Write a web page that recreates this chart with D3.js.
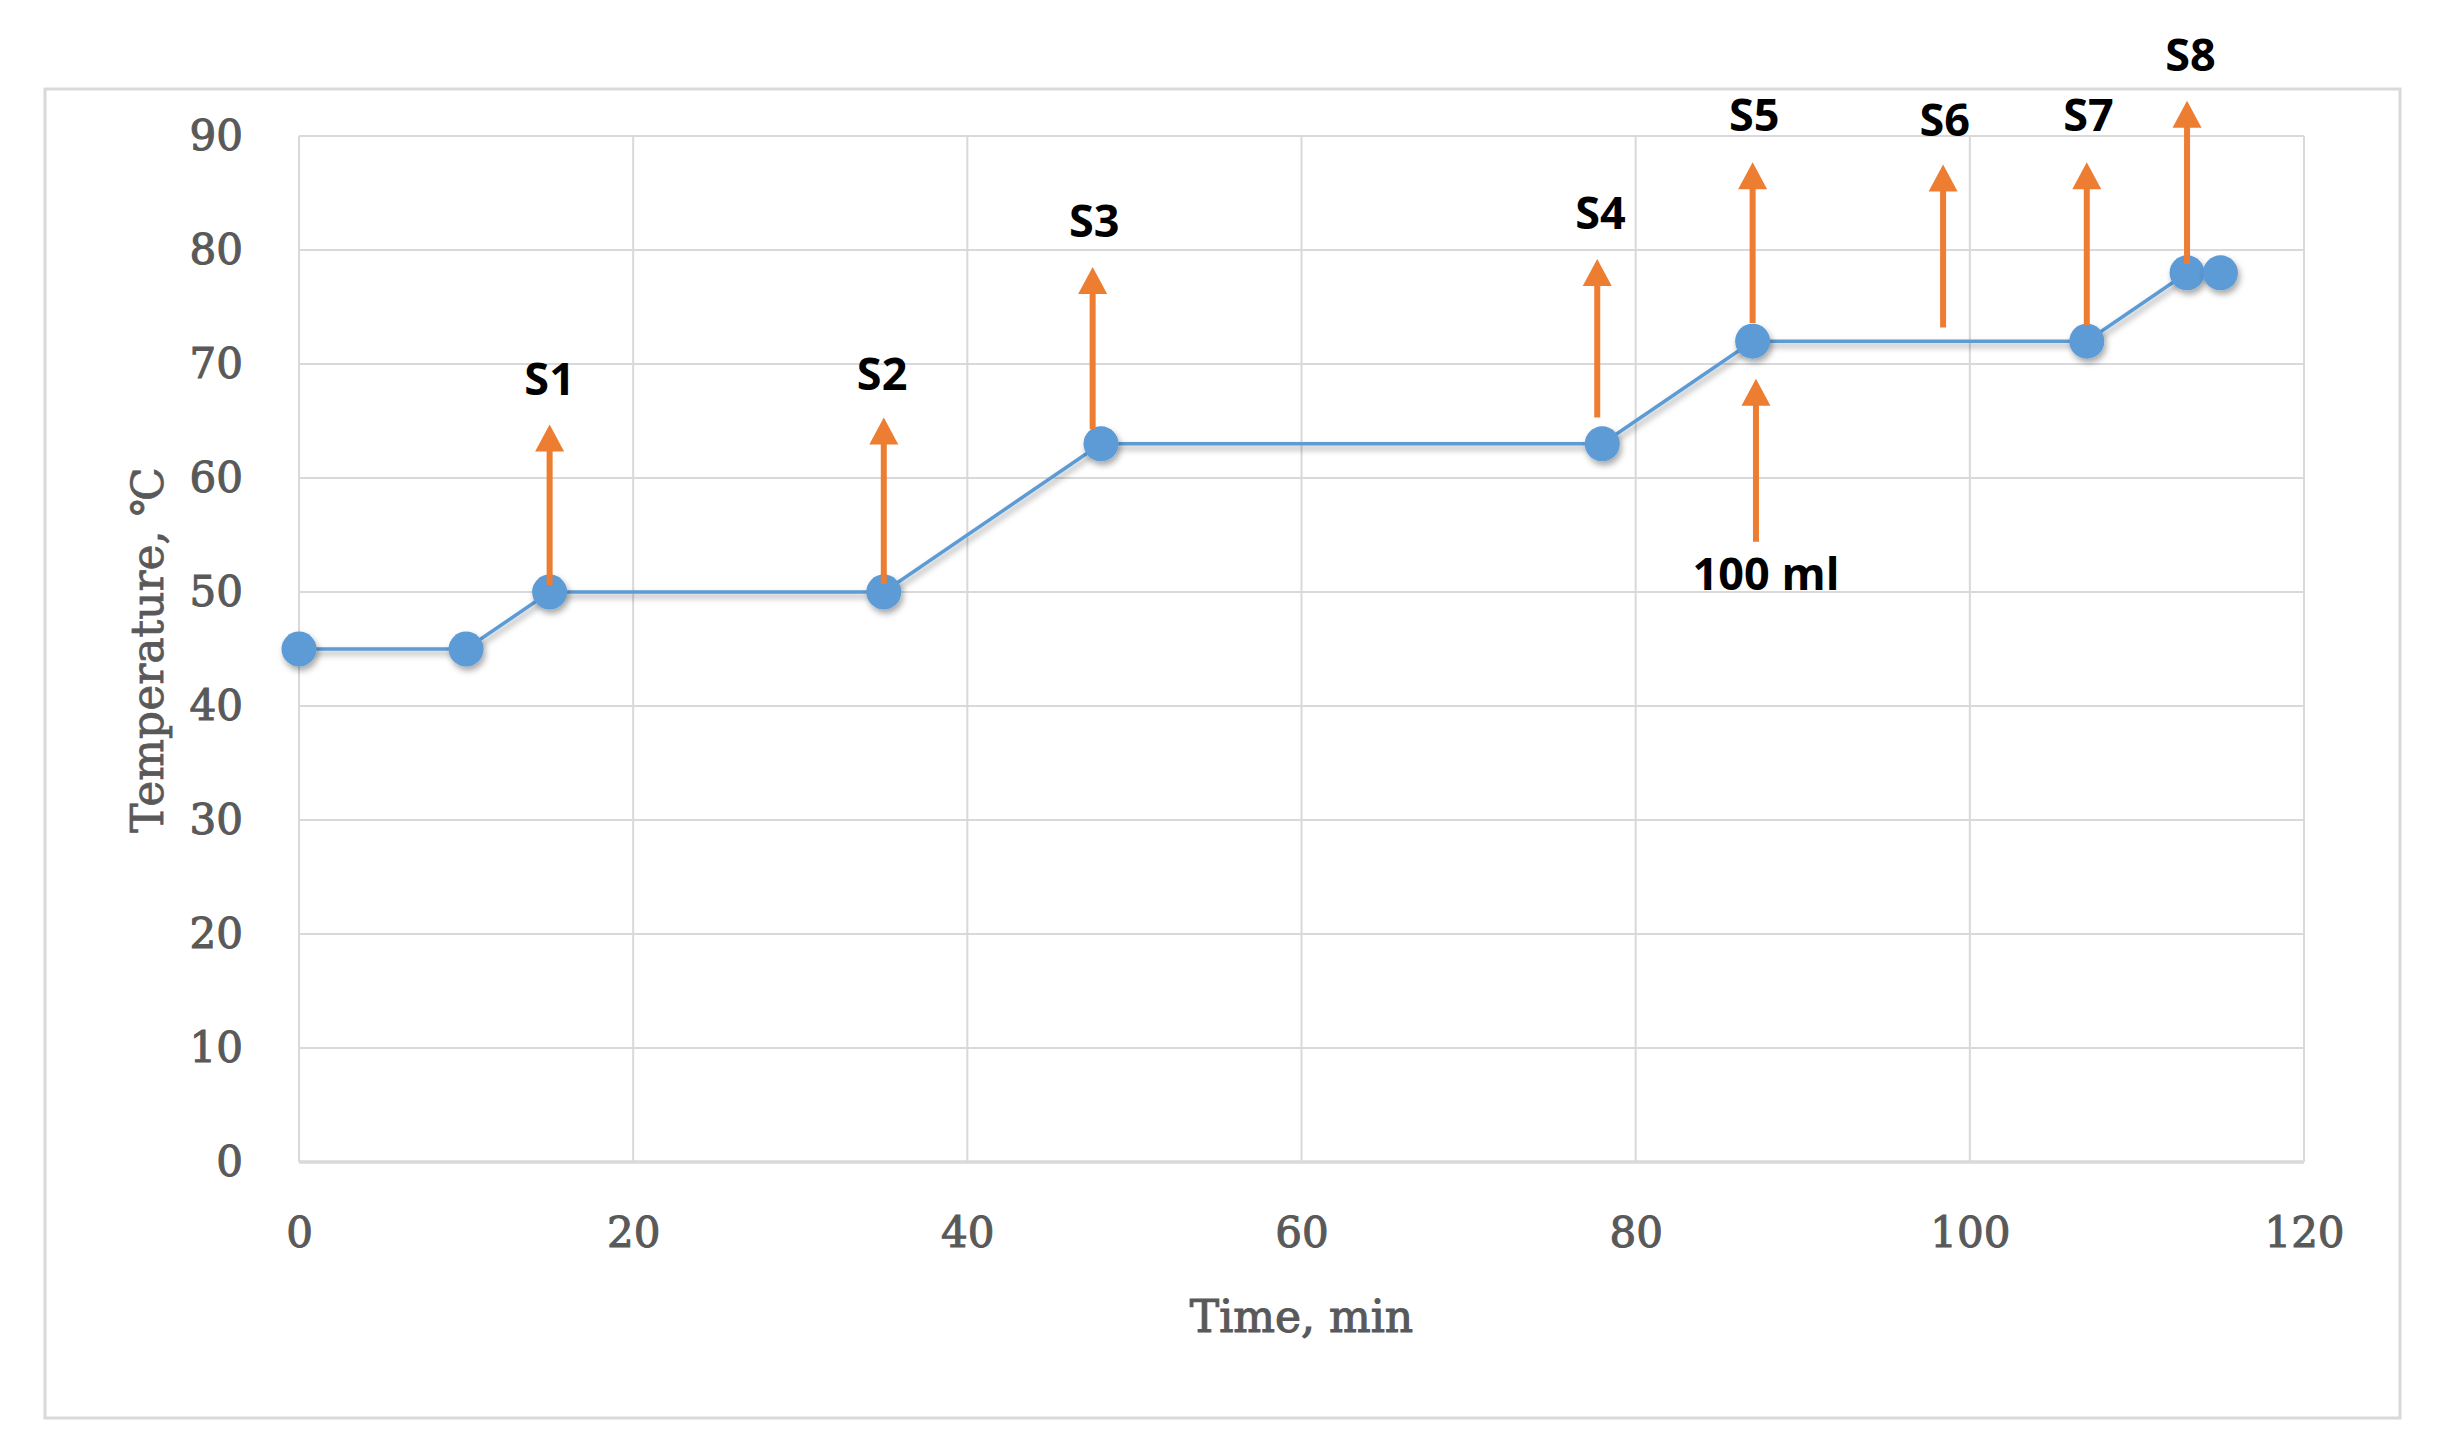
<!DOCTYPE html>
<html><head><meta charset="utf-8">
<script src="https://cdn.jsdelivr.net/npm/d3@7"></script>
<style>body{margin:0;background:#fff}svg{display:block}</style>
</head><body>
<svg id="c" width="2438" height="1452"></svg>
<script>
// Data
const times = [0, 10, 15, 35, 48, 78, 87, 107, 113, 115];
const temps = [45, 45, 50, 50, 63, 63, 72, 72, 78, 78];
const xTicks = [0, 20, 40, 60, 80, 100, 120];
const yTicks = [0, 10, 20, 30, 40, 50, 60, 70, 80, 90];
// Annotation arrows (sampling points)
const arrowLabels = ["S1", "S2", "S3", "S4", "S5", "S6", "S7", "S8", "100 ml"];
const arrowTimes  = [15, 35, 47.5, 77.7, 87, 98.4, 107, 113, 87.2];
const arrowFrom   = [50.6, 50.7, 64.3, 65.3, 73.6, 73.2, 73.4, 78.8, 54.4];
const arrowTo     = [64.7, 65.3, 78.5, 79.2, 87.7, 87.5, 87.7, 93.1, 68.7];
const labelTimes  = [15, 34.9, 47.6, 77.9, 87.1, 98.5, 107.1, 113.2, 87.8];
const labelTemps  = [68.7, 69.1, 82.6, 83.3, 91.9, 91.4, 91.9, 97.1, 51.6];

const svg = d3.select("#c");
const x = d3.scaleLinear().domain([0, 120]).range([299, 2304]);
const y = d3.scaleLinear().domain([0, 90]).range([1162, 136]);

// outer border
svg.append("rect").attr("x", 45).attr("y", 89).attr("width", 2355).attr("height", 1329)
  .attr("fill", "#fff").attr("stroke", "#d9d9d9").attr("stroke-width", 3);

const defs = svg.append("defs");
const f = defs.append("filter").attr("id", "sh").attr("x", "-50%").attr("y", "-50%").attr("width", "200%").attr("height", "200%");
f.append("feDropShadow").attr("dx", 2).attr("dy", 4).attr("stdDeviation", 3).attr("flood-color", "#000").attr("flood-opacity", 0.35);

// grid
const g = svg.append("g");
g.selectAll(".hg").data(yTicks).join("line")
  .attr("x1", x(0)).attr("x2", x(120)).attr("y1", d => y(d)).attr("y2", d => y(d))
  .attr("stroke", "#d9d9d9").attr("stroke-width", d => d === 0 ? 3.5 : 2);
g.selectAll(".vg").data(xTicks).join("line")
  .attr("x1", d => x(d)).attr("x2", d => x(d)).attr("y1", y(0)).attr("y2", y(90))
  .attr("stroke", "#d9d9d9").attr("stroke-width", 2);

// axes via d3 axis generators (tick labels only)
const fontSerif = "'DejaVu Serif', serif";
const xAxis = svg.append("g").attr("transform", `translate(0,${y(0)})`)
  .call(d3.axisBottom(x).tickValues(xTicks).tickSize(0).tickPadding(55));
const yAxis = svg.append("g").attr("transform", `translate(${x(0)},0)`)
  .call(d3.axisLeft(y).tickValues(yTicks).tickSize(0).tickPadding(56));
[xAxis, yAxis].forEach(a => {
  a.select(".domain").remove();
  a.selectAll("text").attr("font-family", fontSerif).attr("font-size", 42)
    .attr("fill", "#595959").attr("font-weight", "normal").attr("stroke", "#595959").attr("stroke-width", 1.1);
});

// axis titles
svg.append("text").attr("x", x(60)).attr("y", 1317).attr("dy", "0.35em")
  .attr("text-anchor", "middle").attr("font-family", fontSerif).attr("font-size", 44)
  .attr("fill", "#595959").attr("stroke", "#595959").attr("stroke-width", 1.1).text("Time, min");
svg.append("text").attr("transform", "translate(148,650) rotate(-90)").attr("dy", "0.35em")
  .attr("text-anchor", "middle").attr("font-family", fontSerif).attr("font-size", 44)
  .attr("fill", "#595959").attr("stroke", "#595959").attr("stroke-width", 0.8).text("Temperature, ℃");

// line
const pts = times.map((t, i) => [t, temps[i]]);
svg.append("path").datum(pts)
  .attr("d", d3.line().x(d => x(d[0])).y(d => y(d[1])))
  .attr("fill", "none").attr("stroke", "#5B9BD5").attr("stroke-width", 3.5)
  .attr("filter", "url(#sh)");
svg.selectAll(".dot").data(pts).join("circle")
  .attr("cx", d => x(d[0])).attr("cy", d => y(d[1])).attr("r", 17.5)
  .attr("fill", "#5B9BD5").attr("filter", "url(#sh)");

// arrows
const headH = 27, headW = 29;
const arr = svg.append("g");
arrowLabels.forEach((lab, i) => {
  const ax = x(arrowTimes[i]);
  const yTip = y(arrowTo[i]);
  const yBot = y(arrowFrom[i]);
  arr.append("line").attr("x1", ax).attr("x2", ax).attr("y1", yBot).attr("y2", yTip + headH - 2)
    .attr("stroke", "#ED7D31").attr("stroke-width", 6);
  arr.append("path")
    .attr("d", `M${ax},${yTip} L${ax - headW / 2},${yTip + headH} L${ax + headW / 2},${yTip + headH} Z`)
    .attr("fill", "#ED7D31");
  arr.append("text").attr("x", x(labelTimes[i])).attr("y", y(labelTemps[i])).attr("dy", "0.36em")
    .attr("text-anchor", "middle").attr("font-family", "'Open Sans', sans-serif")
    .attr("font-weight", 700).attr("font-size", 45).attr("fill", "#000").text(lab);
});
</script>
</body></html>
